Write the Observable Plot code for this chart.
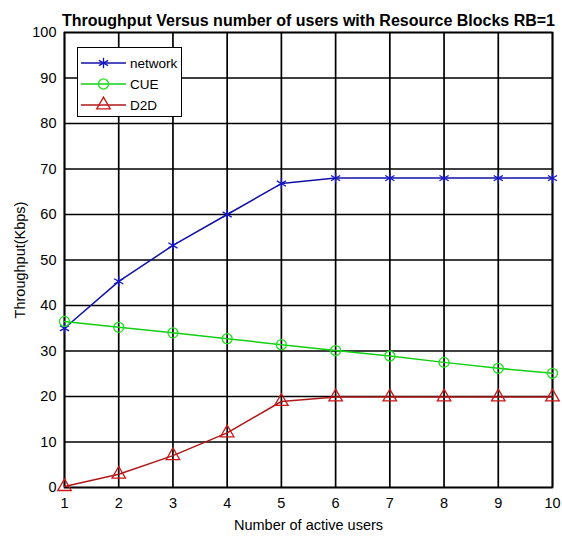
<!DOCTYPE html>
<html>
<head>
<meta charset="utf-8">
<script src="https://cdn.jsdelivr.net/npm/d3@7"></script>
<script src="https://cdn.jsdelivr.net/npm/@observablehq/plot@0.6"></script>
<style>
  body { margin: 0; background: white; }
  #wrap { position: relative; width: 562px; height: 538px; font-family: "Liberation Sans", Arial, sans-serif; }
  #legend { position: absolute; left: 77px; top: 47px; width: 105px; height: 70px; border: 1px solid black; background: white; box-sizing: border-box; }
</style>
</head>
<body>
<div id="wrap"><div id="legend"></div></div>
<script>
const users = [1, 2, 3, 4, 5, 6, 7, 8, 9, 10];
const network = [35, 45.3, 53.2, 60, 66.8, 68, 68, 68, 68, 68];
const cue = [36.5, 35.2, 34.0, 32.7, 31.4, 30.1, 28.9, 27.5, 26.2, 25.1];
const d2d = [0.2, 2.9, 7, 12, 18.9, 19.9, 19.9, 19.9, 19.9, 19.9];
const seriesNames = ["network", "CUE", "D2D"];
const seriesColors = ["#1414c8", "#1ee01e", "#cc1414"];
const seriesLineColors = ["#1010a8", "#10d010", "#b01818"];
const seriesSymbols = ["asterisk", "circle", "triangle"];
const xTicks = [1, 2, 3, 4, 5, 6, 7, 8, 9, 10];
const yTicks = [0, 10, 20, 30, 40, 50, 60, 70, 80, 90, 100];
const title = "Throughput Versus number of users with Resource Blocks RB=1";

const seriesValues = [network, cue, d2d];
const rows = [];
seriesNames.forEach((s, i) => users.forEach((u, j) => rows.push({series: s, users: u, value: seriesValues[i][j]})));

const marks = [
  Plot.gridX(xTicks, {stroke: "black", strokeOpacity: 1, strokeWidth: 1.7}),
  Plot.gridY(yTicks, {stroke: "black", strokeOpacity: 1, strokeWidth: 1.7}),
  Plot.frame({stroke: "black", strokeWidth: 1.7}),
  Plot.axisX(xTicks, {tickSize: 0, tickPadding: 10, fontSize: 14.5, label: "Number of active users", labelAnchor: "center", labelArrow: "none", labelOffset: 42}),
  Plot.axisY(yTicks, {tickSize: 0, tickPadding: 8, fontSize: 14.5, label: "Throughput(Kbps)", labelAnchor: "center", labelArrow: "none", labelOffset: 50}),
];
seriesNames.forEach((s, i) => {
  const d = rows.filter(r => r.series === s);
  marks.push(Plot.line(d, {x: "users", y: "value", stroke: seriesLineColors[i], strokeWidth: 1.5}));
  marks.push(Plot.dot(d, {x: "users", y: "value", stroke: seriesColors[i], symbol: seriesSymbols[i], r: 5, strokeWidth: 1.3, fill: "none"}));
});
marks.push(Plot.text([title], {frameAnchor: "top", dy: -18, fontWeight: "bold", fontSize: 16, fill: "black"}));

const chart = Plot.plot({
  width: 562, height: 538,
  marginLeft: 64, marginRight: 10, marginTop: 32, marginBottom: 51,
  style: {fontFamily: "Liberation Sans, Arial, sans-serif", fontSize: "15px", background: "white", color: "black", overflow: "visible"},
  x: {domain: [1, 10]},
  y: {domain: [0, 100]},
  marks
});
document.getElementById("wrap").prepend(chart);

// legend
const lg = d3.select("#legend").append("svg").attr("width", 103).attr("height", 68);
seriesNames.forEach((s, i) => {
  const y = 15 + i * 21;
  lg.append("line").attr("x1", 3).attr("x2", 48).attr("y1", y).attr("y2", y).attr("stroke", seriesLineColors[i]).attr("stroke-width", 1.5);
  const sym = {asterisk: d3.symbolAsterisk, circle: d3.symbolCircle, triangle: d3.symbolTriangle}[seriesSymbols[i]];
  lg.append("path").attr("d", d3.symbol(sym, 80)()).attr("transform", `translate(25.5,${y})`)
    .attr("fill", "none").attr("stroke", seriesColors[i]).attr("stroke-width", 1.3);
  lg.append("text").attr("x", 52).attr("y", y + 4.5).attr("font-size", 13.5).attr("font-family", "Liberation Sans, Arial, sans-serif").text(s);
});
</script>
</body>
</html>
